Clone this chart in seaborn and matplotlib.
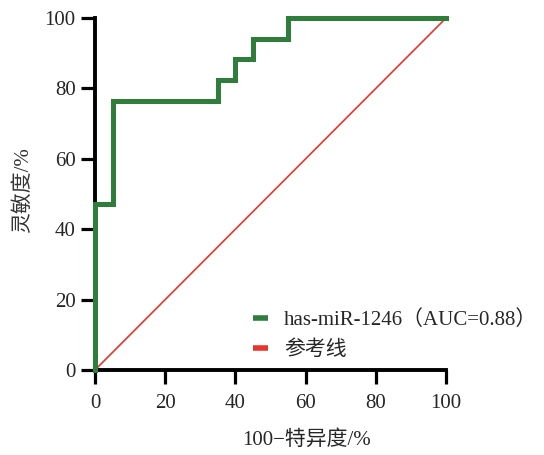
import matplotlib
matplotlib.use("Agg")
import matplotlib.pyplot as plt
import pandas as pd
import seaborn as sns

# ROC points (100 - specificity, sensitivity), in %
fpr = [0, 0, 5, 5, 35, 35, 40, 40, 45, 45, 55, 55, 100]
tpr = [0, 47.06, 47.06, 76.47, 76.47, 82.35, 82.35, 88.24, 88.24, 94.12, 94.12, 100, 100]
ref_x = [0, 100]
ref_y = [0, 100]
curve_label = "has-miR-1246（AUC=0.88）"
ref_label = "参考线"
ticks = [0, 20, 40, 60, 80, 100]

sns.set_style("ticks")
plt.rcParams["font.family"] = ["Liberation Serif", "Noto Sans CJK SC"]

roc = pd.DataFrame({"fpr": fpr, "tpr": tpr})
ref = pd.DataFrame({"x": ref_x, "y": ref_y})

fig = plt.figure(figsize=(5.44, 4.55), dpi=100)
ax = fig.add_axes([0.1746, 0.1868, 0.6453, 0.7736])

sns.lineplot(data=ref, x="x", y="y", ax=ax, color="#e8352b", linewidth=1.2,
             sort=False, estimator=None, label=ref_label, zorder=2)
sns.lineplot(data=roc, x="fpr", y="tpr", ax=ax, color="#2f7d3b", linewidth=3.6,
             sort=False, estimator=None, label=curve_label, zorder=3,
             clip_on=False, solid_joinstyle="miter", solid_capstyle="projecting")

ax.set_xlim(0, 100)
ax.set_ylim(0, 100)
ax.set_xticks(ticks)
ax.set_yticks(ticks)
ax.tick_params(axis="both", labelsize=15, width=2.3, length=10, color="black")
ax.tick_params(axis="x", pad=7)
ax.tick_params(axis="y", pad=4)
for side in ["left", "bottom"]:
    ax.spines[side].set_linewidth(2.8)
    ax.spines[side].set_color("black")
sns.despine(ax=ax)

ax.set_xlabel("100−特异度/%", fontsize=15)
ax.xaxis.set_label_coords(0.604, -0.17)
ax.set_ylabel("灵敏度/%", fontsize=15, color="#333333")
ax.yaxis.set_label_coords(-0.178, 0.51)

handles, labels = ax.get_legend_handles_labels()
leg = ax.legend(handles[::-1], labels[::-1], loc="upper left", bbox_to_anchor=(0.45, 0.17),
                frameon=False, fontsize=15, handlelength=0.7, handletextpad=0.8,
                labelspacing=0.5, borderaxespad=0, borderpad=0)
for h in leg.get_lines():
    h.set_linewidth(4)
    h.set_solid_capstyle("butt")

fig.savefig("out.png", dpi=100)
